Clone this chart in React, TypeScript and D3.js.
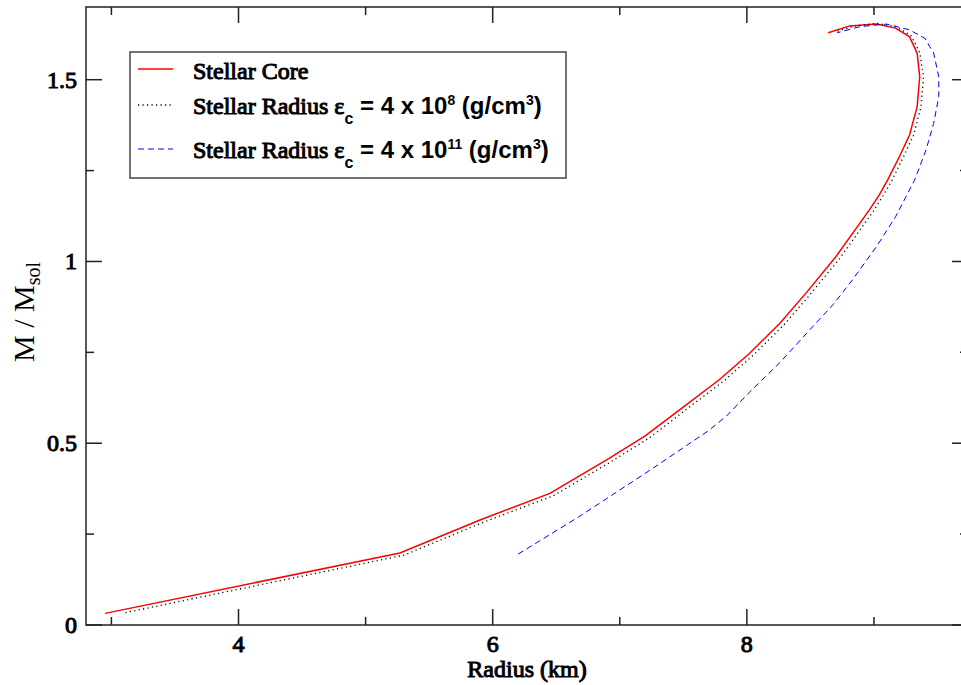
import React from "react";
import * as d3 from "d3";

// Mass–radius relation: [radius (km), M / M_sol]
const coreCurve: [number, number][] = [
  [2.95, 0.032], [5.27, 0.198], [5.9, 0.289], [6.45, 0.362], [6.9, 0.455],
  [7.2, 0.52], [7.52, 0.605], [7.78, 0.674], [8.02, 0.747], [8.26, 0.83],
  [8.47, 0.915], [8.7, 1.013], [8.964, 1.142], [9.042, 1.183], [9.107, 1.224],
  [9.2, 1.288], [9.28, 1.348], [9.34, 1.426], [9.36, 1.508], [9.34, 1.573],
  [9.28, 1.618], [9.17, 1.642], [9.02, 1.653], [8.81, 1.648], [8.64, 1.629],
];

const radiusLowDensity: [number, number][] = [
  [3.11, 0.034], [5.3, 0.192], [5.93, 0.283], [6.48, 0.356], [6.93, 0.449],
  [7.23, 0.514], [7.55, 0.6], [7.81, 0.669], [8.05, 0.742], [8.29, 0.825],
  [8.5, 0.91], [8.73, 1.008], [8.995, 1.138], [9.07, 1.18], [9.14, 1.222],
  [9.23, 1.286], [9.31, 1.346], [9.37, 1.425], [9.39, 1.508], [9.36, 1.575],
  [9.29, 1.622], [9.17, 1.646], [9.02, 1.655], [8.85, 1.648], [8.7, 1.632],
];

const radiusHighDensity: [number, number][] = [
  [6.2, 0.195], [6.68, 0.298], [7.26, 0.431], [7.7, 0.535], [7.84, 0.575],
  [8.02, 0.64], [8.26, 0.722], [8.49, 0.81], [8.68, 0.882], [8.83, 0.949],
  [9.02, 1.041], [9.17, 1.123], [9.32, 1.224], [9.41, 1.307],
  [9.47, 1.38], [9.51, 1.453], [9.51, 1.508], [9.47, 1.573], [9.4, 1.614],
  [9.28, 1.637], [9.1, 1.653], [8.89, 1.646], [8.71, 1.629],
];

const xMajorTicks = [4, 6, 8];
const xMinorTicks = [3, 5, 7, 9];
const yMajorTicks = [0, 0.5, 1, 1.5];
const yMajorLabels = ["0", "0.5", "1", "1.5"];
const yMinorTicks = [0.25, 0.75, 1.25];

const W = 961;
const H = 685;
const left = 86;
const right = 968;
const top = 7;
const bottom = 625;

const serif = "'Liberation Serif', 'Times New Roman', serif";
const sans = "'Liberation Sans', Arial, sans-serif";

// Heavy serif lettering: the regular face with a thin outline stroke
const heavySerif = {
  fontFamily: serif,
  fontWeight: "normal" as const,
  stroke: "#000",
  strokeWidth: 1,
};

export default function App() {
  const x = d3.scaleLinear().domain([2.8, 9.74]).range([left, right]);
  const y = d3.scaleLinear().domain([0, 1.7]).range([bottom, top]);
  const line = d3
    .line<[number, number]>()
    .x((d) => x(d[0]))
    .y((d) => y(d[1]));

  const MAJ = 16;
  const MIN = 8;
  const tickStroke = "#222";

  return (
    <svg
      width={W}
      height={H}
      style={{ position: "absolute", left: 0, top: 0, background: "#fff" }}
    >
      <rect x={0} y={0} width={W} height={H} fill="#fff" />

      {/* curves */}
      <path d={line(coreCurve) || ""} fill="none" stroke="#ff0000" strokeWidth={1.5} />
      <path
        d={line(radiusLowDensity) || ""}
        fill="none"
        stroke="#000"
        strokeWidth={1.3}
        strokeDasharray="1.2,3.3"
      />
      <path
        d={line(radiusHighDensity) || ""}
        fill="none"
        stroke="#0000ff"
        strokeWidth={1}
        strokeDasharray="6,4"
      />

      {/* frame */}
      <rect
        x={left}
        y={top}
        width={right - left}
        height={bottom - top}
        fill="none"
        stroke={tickStroke}
        strokeWidth={1.5}
      />

      {/* x ticks, bottom and top */}
      {xMajorTicks.map((t) => (
        <g key={"xM" + t}>
          <line x1={x(t)} x2={x(t)} y1={bottom} y2={bottom - MAJ} stroke={tickStroke} strokeWidth={1.5} />
          <line x1={x(t)} x2={x(t)} y1={top} y2={top + MAJ} stroke={tickStroke} strokeWidth={1.5} />
          <text x={x(t)} y={652} textAnchor="middle" fontSize={24} {...heavySerif}>
            {t}
          </text>
        </g>
      ))}
      {xMinorTicks.map((t) => (
        <g key={"xm" + t}>
          <line x1={x(t)} x2={x(t)} y1={bottom} y2={bottom - MIN} stroke={tickStroke} strokeWidth={1.5} />
          <line x1={x(t)} x2={x(t)} y1={top} y2={top + MIN} stroke={tickStroke} strokeWidth={1.5} />
        </g>
      ))}

      {/* y ticks, left and right */}
      {yMajorTicks.map((t, i) => (
        <g key={"yM" + t}>
          <line x1={left} x2={left + MAJ} y1={y(t)} y2={y(t)} stroke={tickStroke} strokeWidth={1.5} />
          <line x1={right} x2={right - MAJ} y1={y(t)} y2={y(t)} stroke={tickStroke} strokeWidth={1.5} />
          <text x={77} y={y(t) + 8} textAnchor="end" fontSize={24} {...heavySerif}>
            {yMajorLabels[i]}
          </text>
        </g>
      ))}
      {yMinorTicks.map((t) => (
        <g key={"ym" + t}>
          <line x1={left} x2={left + MIN} y1={y(t)} y2={y(t)} stroke={tickStroke} strokeWidth={1.5} />
          <line x1={right} x2={right - MIN} y1={y(t)} y2={y(t)} stroke={tickStroke} strokeWidth={1.5} />
        </g>
      ))}

      {/* axis titles */}
      <text x={527} y={677} textAnchor="middle" fontSize={24} {...heavySerif}>
        Radius (km)
      </text>
      <text
        transform="translate(34,312) rotate(-90)"
        textAnchor="middle"
        fontFamily={serif}
        fontSize={30}
      >
        M / M
        <tspan fontSize={20} dy={6}>
          sol
        </tspan>
      </text>

      {/* legend */}
      <g>
        <rect x={130} y={52} width={436} height={126} fill="#fff" stroke="#444" strokeWidth={1.5} />
        <line x1={138} x2={173} y1={69} y2={69} stroke="#ff0000" strokeWidth={1.5} />
        <line x1={138} x2={173} y1={105} y2={105} stroke="#000" strokeWidth={1.3} strokeDasharray="1.2,3.3" />
        <line x1={138} x2={173} y1={149} y2={149} stroke="#0000ff" strokeWidth={1} strokeDasharray="6,4" />

        <text x={193} y={79} fontSize={24} {...heavySerif}>
          Stellar Core
        </text>
        <text x={193} y={114} fontSize={24}>
          <tspan {...heavySerif}>Stellar Radius ε</tspan>
          <tspan fontFamily={sans} fontWeight="bold" fontSize={16} dy={10}>c</tspan>
          <tspan fontFamily={sans} fontWeight="bold" dy={-10}> = 4 x 10</tspan>
          <tspan fontFamily={sans} fontWeight="bold" fontSize={14} dy={-9}>8</tspan>
          <tspan fontFamily={sans} fontWeight="bold" dy={9}> (g/cm</tspan>
          <tspan fontFamily={sans} fontWeight="bold" fontSize={14} dy={-9}>3</tspan>
          <tspan fontFamily={sans} fontWeight="bold" dy={9}>)</tspan>
        </text>
        <text x={193} y={158} fontSize={24}>
          <tspan {...heavySerif}>Stellar Radius ε</tspan>
          <tspan fontFamily={sans} fontWeight="bold" fontSize={16} dy={10}>c</tspan>
          <tspan fontFamily={sans} fontWeight="bold" dy={-10}> = 4 x 10</tspan>
          <tspan fontFamily={sans} fontWeight="bold" fontSize={14} dy={-9}>11</tspan>
          <tspan fontFamily={sans} fontWeight="bold" dy={9}> (g/cm</tspan>
          <tspan fontFamily={sans} fontWeight="bold" fontSize={14} dy={-9}>3</tspan>
          <tspan fontFamily={sans} fontWeight="bold" dy={9}>)</tspan>
        </text>
      </g>
    </svg>
  );
}
